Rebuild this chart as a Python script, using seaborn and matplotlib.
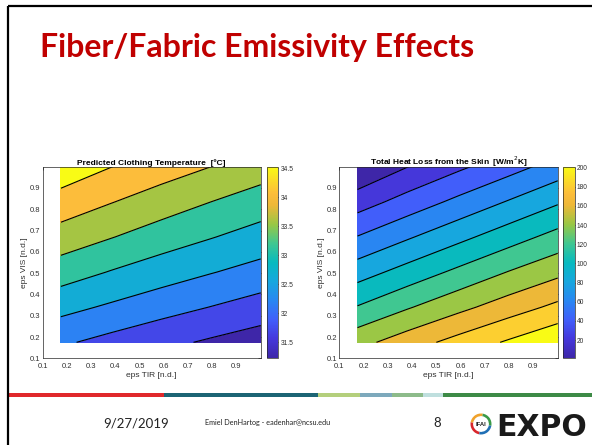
import numpy as np
import matplotlib
matplotlib.use("Agg")
import matplotlib.pyplot as plt
import matplotlib.cm as cm
from matplotlib.colors import LinearSegmentedColormap, Normalize
from matplotlib.patches import Wedge, Rectangle
import seaborn as sns

# Grid of the simulation (eps TIR on x, eps VIS on y)
eps_tir = [0.175, 0.38, 0.59, 0.795, 1.0]
eps_vis = [0.175, 0.34, 0.505, 0.67, 0.835, 1.0]

# Predicted clothing temperature [C], rows = eps_vis, cols = eps_tir
temp = [
    [32.11, 31.92, 31.74, 31.57, 31.41],
    [32.59, 32.40, 32.21, 32.04, 31.87],
    [33.08, 32.86, 32.66, 32.48, 32.31],
    [33.52, 33.31, 33.09, 32.90, 32.71],
    [33.95, 33.72, 33.50, 33.29, 33.10],
    [34.39, 34.13, 33.90, 33.70, 33.49],
]
temp_levels = [31.63, 32.05, 32.46, 32.88, 33.29, 33.70, 34.12]
temp_clim = [31.22, 34.53]
temp_ticks = [31.5, 32, 32.5, 33, 33.5, 34, 34.5]

# Total heat loss from the skin
heat = [
    [140.6, 156.1, 171.0, 185.0, 198.6],
    [111.2, 126.6, 141.5, 155.5, 169.0],
    [83.7, 98.8, 114.1, 128.8, 141.9],
    [56.2, 71.5, 86.8, 101.7, 116.4],
    [28.8, 44.5, 59.9, 74.8, 89.7],
    [1.4, 18.8, 33.9, 48.1, 63.0],
]
heat_levels = [19.2, 37.4, 55.5, 73.7, 91.9, 110.1, 128.3, 146.5, 164.6, 182.8]
heat_clim = [1, 201]
heat_ticks = [20, 40, 60, 80, 100, 120, 140, 160, 180, 200]

axis_ticks = [0.1, 0.2, 0.3, 0.4, 0.5, 0.6, 0.7, 0.8, 0.9]

# MATLAB parula (approximation)
parula = LinearSegmentedColormap.from_list("parula", [
    (0.00, (0.2422, 0.1504, 0.6603)), (0.10, (0.2700, 0.2150, 0.8600)),
    (0.20, (0.2550, 0.3700, 0.9800)), (0.30, (0.1600, 0.5300, 0.9500)),
    (0.40, (0.0900, 0.6550, 0.8700)), (0.50, (0.0300, 0.7300, 0.7500)),
    (0.60, (0.2500, 0.7800, 0.5700)), (0.70, (0.6000, 0.7800, 0.2700)),
    (0.80, (0.9300, 0.7200, 0.2200)), (0.86, (0.9900, 0.7400, 0.2300)),
    (0.92, (0.9850, 0.8400, 0.1700)), (1.00, (0.9769, 0.9839, 0.0805)),
])

sns.set_style("white")
plt.rcParams["font.family"] = ["Liberation Sans", "DejaVu Sans"]

W, H = 592, 445
fig = plt.figure(figsize=(W / 100, H / 100), dpi=100)

# slide background in pixel coordinates
bg = fig.add_axes([0, 0, 1, 1], zorder=-1)
bg.set_xlim(0, W)
bg.set_ylim(H, 0)
bg.axis("off")
bg.plot([7.5, 7.5], [6, H], color="black", lw=1.6, solid_capstyle="butt")
bg.plot([7.5, W], [6, 6], color="black", lw=1.6, solid_capstyle="butt")

bg.text(40, 57, "Fiber/Fabric Emissivity Effects", color="#C00000",
        fontsize=23, fontweight="bold", family=["Lato", "DejaVu Sans"])

# footer colour band
band = [(8.5, 164, "#E0282B"), (164, 318, "#1C6474"), (318, 360, "#B4CF7C"),
        (360, 392, "#7DA9BC"), (392, 423, "#8DBB8A"), (423, 443, "#BFDFDE"),
        (443, W, "#3D8A46")]
for x0, x1, c in band:
    bg.add_patch(Rectangle((x0, 392.5), x1 - x0, 4.5, color=c, lw=0))

bg.text(136, 423, "9/27/2019", fontsize=9.5, ha="center", va="center",
        family=["Lato", "DejaVu Sans"], color="#222222")
bg.text(268, 422, "Emiel DenHartog - eadenhar@ncsu.edu", fontsize=5.2, ha="center",
        va="center", family=["Lato", "DejaVu Sans"], color="#222222")
bg.text(437, 423, "8", fontsize=9.5, ha="center", va="center",
        family=["Lato", "DejaVu Sans"], color="#222222")

# logo
for a0, a1, c in [(100, 190, "#D9262B"), (190, 280, "#F0A22C"),
                  (280, 10, "#3A9A48"), (10, 100, "#1F6FB5")]:
    bg.add_patch(Wedge((481, 424), 10.5, a0, a1, width=2.6, color=c, lw=0))
bg.text(481, 424.5, "IFAI", fontsize=4.2, fontweight="bold", ha="center",
        va="center", color="#222222")
bg.text(496, 436, "EXPO", fontsize=21.5, fontweight="heavy", color="#1a1a1a",
        family=["DejaVu Sans"], va="baseline")


def panel(rect, crect, z, levels, clim, cticks, title):
    ax = fig.add_axes(rect)
    cax = fig.add_axes(crect)
    bounds = [clim[0]] + levels + [clim[1]]
    colors = parula(np.linspace(0, 1, len(bounds) - 1))
    ax.contourf(eps_tir, eps_vis, z, levels=bounds, colors=colors)
    ax.contour(eps_tir, eps_vis, z, levels=levels, colors="black", linewidths=0.8)
    ax.set_xlim(0.1, 1.0)
    ax.set_ylim(0.1, 1.0)
    ax.set_xticks(axis_ticks)
    ax.set_yticks(axis_ticks)
    ax.set_xticklabels([f"{t:g}" for t in axis_ticks])
    ax.set_yticklabels([f"{t:g}" for t in axis_ticks])
    ax.tick_params(direction="in", length=2, width=0.5, top=True, right=True,
                   labelsize=5.5, colors="#303030")
    ax.tick_params(axis="x", pad=3.5)
    ax.tick_params(axis="y", pad=1.5)
    for s in ax.spines.values():
        s.set_linewidth(0.5)
        s.set_color("#262626")
    ax.set_xlabel("eps TIR [n.d.]", fontsize=6, color="#303030", labelpad=1)
    ax.set_ylabel("eps VIS [n.d.]", fontsize=6, color="#303030", labelpad=1.5)
    ax.set_title(title, fontsize=6, fontweight="bold", color="black", pad=1.5)

    sm = cm.ScalarMappable(norm=Normalize(*clim), cmap=parula)
    cb = fig.colorbar(sm, cax=cax, ticks=cticks)
    cb.ax.set_yticklabels([f"{t:g}" for t in cticks])
    cb.ax.tick_params(direction="in", length=2, width=0.5, labelsize=4.8,
                      colors="#303030", pad=1.5)
    cb.outline.set_linewidth(0.5)
    cb.outline.set_edgecolor("#262626")


top = 1 - 358.3 / H
h = (358.3 - 166.7) / H
panel([42.7 / W, top, 218 / W, h], [266.7 / W, top, 11.6 / W, h],
      temp, temp_levels, temp_clim, temp_ticks,
      "Predicted Clothing Temperature  [\u00baC]")
panel([339.3 / W, top, 218.4 / W, h], [563 / W, top, 11.6 / W, h],
      heat, heat_levels, heat_clim, heat_ticks,
      "Total Heat Loss from the Skin  [W/m$^2$K]")

fig.savefig("out.png", dpi=100)
